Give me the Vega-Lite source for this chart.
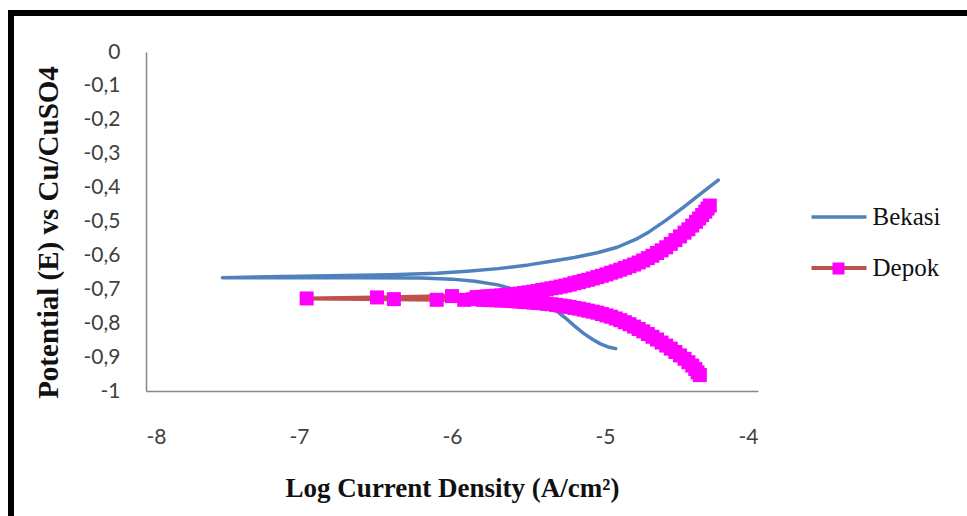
{
  "$schema": "https://vega.github.io/schema/vega-lite/v6.json",
  "width": 956,
  "height": 503,
  "autosize": {"type": "none"},
  "padding": {"left": 11, "top": 13, "right": 0, "bottom": 0},
  "background": "white",
  "config": {
    "view": {"stroke": "black", "strokeWidth": 6, "strokeDash": [956, 1459, 503], "strokeCap": "square"},
    "axis": {"domainColor": "#868686", "domainWidth": 1.5, "ticks": false, "tickSize": 0, "grid": false, "labelFont": "Lato", "labelFontSize": 21, "labelColor": "#404040", "titleFont": "Liberation Serif", "titleFontWeight": "bold", "titleFontSize": 27, "titleColor": "#111111"}
  },
  "data": {"values": [
    {"s":"Bekasi","i":1,"x":-4.93,"y":-0.875},{"s":"Bekasi","i":2,"x":-4.98,"y":-0.870},{"s":"Bekasi","i":3,"x":-5.03,"y":-0.861},{"s":"Bekasi","i":4,"x":-5.08,"y":-0.848},{"s":"Bekasi","i":5,"x":-5.14,"y":-0.830},{"s":"Bekasi","i":6,"x":-5.20,"y":-0.808},{"s":"Bekasi","i":7,"x":-5.26,"y":-0.784},{"s":"Bekasi","i":8,"x":-5.32,"y":-0.762},{"s":"Bekasi","i":9,"x":-5.40,"y":-0.740},{"s":"Bekasi","i":10,"x":-5.50,"y":-0.718},{"s":"Bekasi","i":11,"x":-5.60,"y":-0.700},{"s":"Bekasi","i":12,"x":-5.70,"y":-0.687},{"s":"Bekasi","i":13,"x":-5.85,"y":-0.676},{"s":"Bekasi","i":14,"x":-6.00,"y":-0.670},{"s":"Bekasi","i":15,"x":-6.20,"y":-0.667},{"s":"Bekasi","i":16,"x":-6.60,"y":-0.666},{"s":"Bekasi","i":17,"x":-7.00,"y":-0.666},{"s":"Bekasi","i":18,"x":-7.50,"y":-0.666},{"s":"Bekasi","i":19,"x":-7.20,"y":-0.663},{"s":"Bekasi","i":20,"x":-6.80,"y":-0.660},{"s":"Bekasi","i":21,"x":-6.40,"y":-0.657},{"s":"Bekasi","i":22,"x":-6.10,"y":-0.653},{"s":"Bekasi","i":23,"x":-5.90,"y":-0.647},{"s":"Bekasi","i":24,"x":-5.70,"y":-0.639},{"s":"Bekasi","i":25,"x":-5.50,"y":-0.628},{"s":"Bekasi","i":26,"x":-5.36,"y":-0.618},{"s":"Bekasi","i":27,"x":-5.20,"y":-0.606},{"s":"Bekasi","i":28,"x":-5.05,"y":-0.592},{"s":"Bekasi","i":29,"x":-4.92,"y":-0.576},{"s":"Bekasi","i":30,"x":-4.80,"y":-0.553},{"s":"Bekasi","i":31,"x":-4.71,"y":-0.530},{"s":"Bekasi","i":32,"x":-4.60,"y":-0.496},{"s":"Bekasi","i":33,"x":-4.49,"y":-0.459},{"s":"Bekasi","i":34,"x":-4.38,"y":-0.420},{"s":"Bekasi","i":35,"x":-4.26,"y":-0.378},
    {"s":"Depok","i":101,"x":-4.38,"y":-0.953},{"s":"Depok","i":102,"x":-4.395,"y":-0.945},{"s":"Depok","i":103,"x":-4.41,"y":-0.935},{"s":"Depok","i":104,"x":-4.43,"y":-0.925},{"s":"Depok","i":105,"x":-4.455,"y":-0.915},{"s":"Depok","i":106,"x":-4.48,"y":-0.905},{"s":"Depok","i":107,"x":-4.51,"y":-0.895},{"s":"Depok","i":108,"x":-4.54,"y":-0.885},{"s":"Depok","i":109,"x":-4.57,"y":-0.875},{"s":"Depok","i":110,"x":-4.60,"y":-0.866},{"s":"Depok","i":111,"x":-4.63,"y":-0.857},{"s":"Depok","i":112,"x":-4.66,"y":-0.848},{"s":"Depok","i":113,"x":-4.69,"y":-0.840},{"s":"Depok","i":114,"x":-4.72,"y":-0.832},{"s":"Depok","i":115,"x":-4.75,"y":-0.824},{"s":"Depok","i":116,"x":-4.78,"y":-0.817},{"s":"Depok","i":117,"x":-4.81,"y":-0.810},{"s":"Depok","i":118,"x":-4.84,"y":-0.803},{"s":"Depok","i":119,"x":-4.87,"y":-0.797},{"s":"Depok","i":120,"x":-4.90,"y":-0.791},{"s":"Depok","i":121,"x":-4.93,"y":-0.786},{"s":"Depok","i":122,"x":-4.96,"y":-0.781},{"s":"Depok","i":123,"x":-4.99,"y":-0.777},{"s":"Depok","i":124,"x":-5.02,"y":-0.773},{"s":"Depok","i":125,"x":-5.05,"y":-0.769},{"s":"Depok","i":126,"x":-5.08,"y":-0.766},{"s":"Depok","i":127,"x":-5.11,"y":-0.763},{"s":"Depok","i":128,"x":-5.14,"y":-0.760},{"s":"Depok","i":129,"x":-5.17,"y":-0.757},{"s":"Depok","i":130,"x":-5.20,"y":-0.755},{"s":"Depok","i":131,"x":-5.23,"y":-0.752},{"s":"Depok","i":132,"x":-5.26,"y":-0.750},{"s":"Depok","i":133,"x":-5.29,"y":-0.748},{"s":"Depok","i":134,"x":-5.32,"y":-0.746},{"s":"Depok","i":135,"x":-5.35,"y":-0.744},{"s":"Depok","i":136,"x":-5.38,"y":-0.743},{"s":"Depok","i":137,"x":-5.41,"y":-0.741},{"s":"Depok","i":138,"x":-5.44,"y":-0.740},{"s":"Depok","i":139,"x":-5.47,"y":-0.739},{"s":"Depok","i":140,"x":-5.50,"y":-0.738},{"s":"Depok","i":141,"x":-5.53,"y":-0.737},{"s":"Depok","i":142,"x":-5.56,"y":-0.736},{"s":"Depok","i":143,"x":-5.59,"y":-0.735},{"s":"Depok","i":144,"x":-5.62,"y":-0.734},{"s":"Depok","i":145,"x":-5.65,"y":-0.733},{"s":"Depok","i":146,"x":-5.68,"y":-0.733},{"s":"Depok","i":147,"x":-5.71,"y":-0.732},{"s":"Depok","i":148,"x":-5.74,"y":-0.732},{"s":"Depok","i":149,"x":-5.77,"y":-0.731},{"s":"Depok","i":150,"x":-5.80,"y":-0.731},
    {"s":"Depok","i":151,"x":-5.86,"y":-0.729},{"s":"Depok","i":152,"x":-5.92,"y":-0.731},{"s":"Depok","i":153,"x":-6.10,"y":-0.731},{"s":"Depok","i":154,"x":-6.38,"y":-0.729},{"s":"Depok","i":155,"x":-6.95,"y":-0.727},{"s":"Depok","i":156,"x":-6.49,"y":-0.724},{"s":"Depok","i":157,"x":-6.00,"y":-0.720},{"s":"Depok","i":158,"x":-5.84,"y":-0.723},
    {"s":"Depok","i":159,"x":-5.80,"y":-0.722},{"s":"Depok","i":160,"x":-5.77,"y":-0.721},{"s":"Depok","i":161,"x":-5.74,"y":-0.720},{"s":"Depok","i":162,"x":-5.71,"y":-0.719},{"s":"Depok","i":163,"x":-5.68,"y":-0.718},{"s":"Depok","i":164,"x":-5.65,"y":-0.717},{"s":"Depok","i":165,"x":-5.62,"y":-0.716},{"s":"Depok","i":166,"x":-5.59,"y":-0.714},{"s":"Depok","i":167,"x":-5.56,"y":-0.713},{"s":"Depok","i":168,"x":-5.53,"y":-0.711},{"s":"Depok","i":169,"x":-5.50,"y":-0.709},{"s":"Depok","i":170,"x":-5.47,"y":-0.707},{"s":"Depok","i":171,"x":-5.44,"y":-0.705},{"s":"Depok","i":172,"x":-5.41,"y":-0.702},{"s":"Depok","i":173,"x":-5.38,"y":-0.700},{"s":"Depok","i":174,"x":-5.35,"y":-0.697},{"s":"Depok","i":175,"x":-5.32,"y":-0.695},{"s":"Depok","i":176,"x":-5.29,"y":-0.692},{"s":"Depok","i":177,"x":-5.26,"y":-0.689},{"s":"Depok","i":178,"x":-5.23,"y":-0.686},{"s":"Depok","i":179,"x":-5.20,"y":-0.682},{"s":"Depok","i":180,"x":-5.17,"y":-0.679},{"s":"Depok","i":181,"x":-5.14,"y":-0.675},{"s":"Depok","i":182,"x":-5.11,"y":-0.672},{"s":"Depok","i":183,"x":-5.08,"y":-0.668},{"s":"Depok","i":184,"x":-5.05,"y":-0.664},{"s":"Depok","i":185,"x":-5.02,"y":-0.660},{"s":"Depok","i":186,"x":-4.99,"y":-0.656},{"s":"Depok","i":187,"x":-4.96,"y":-0.651},{"s":"Depok","i":188,"x":-4.93,"y":-0.647},{"s":"Depok","i":189,"x":-4.90,"y":-0.642},{"s":"Depok","i":190,"x":-4.87,"y":-0.637},{"s":"Depok","i":191,"x":-4.84,"y":-0.632},{"s":"Depok","i":192,"x":-4.81,"y":-0.627},{"s":"Depok","i":193,"x":-4.78,"y":-0.621},{"s":"Depok","i":194,"x":-4.75,"y":-0.615},{"s":"Depok","i":195,"x":-4.72,"y":-0.608},{"s":"Depok","i":196,"x":-4.69,"y":-0.601},{"s":"Depok","i":197,"x":-4.66,"y":-0.593},{"s":"Depok","i":198,"x":-4.63,"y":-0.585},{"s":"Depok","i":199,"x":-4.60,"y":-0.576},{"s":"Depok","i":200,"x":-4.57,"y":-0.566},{"s":"Depok","i":201,"x":-4.54,"y":-0.555},{"s":"Depok","i":202,"x":-4.51,"y":-0.544},{"s":"Depok","i":203,"x":-4.48,"y":-0.533},{"s":"Depok","i":204,"x":-4.455,"y":-0.523},{"s":"Depok","i":205,"x":-4.43,"y":-0.512},{"s":"Depok","i":206,"x":-4.405,"y":-0.501},{"s":"Depok","i":207,"x":-4.385,"y":-0.491},{"s":"Depok","i":208,"x":-4.365,"y":-0.481},{"s":"Depok","i":209,"x":-4.345,"y":-0.471},{"s":"Depok","i":210,"x":-4.33,"y":-0.462},{"s":"Depok","i":211,"x":-4.315,"y":-0.453}
  ]},
  "layer": [
    {
      "mark": {"type": "line", "interpolate": "linear", "strokeJoin": "round", "strokeCap": "round"},
      "encoding": {
        "x": {"field": "x", "type": "quantitative", "scale": {"domain": [-8, -4], "range": [135, 747], "nice": false, "zero": false},
          "axis": {"offset": -125, "values": [-8, -7, -6, -5, -4], "labelExpr": "toString(datum.value)", "labelPadding": 35, "title": "Log Current Density (A/cm²)", "titleX": 441, "titleY": 97, "titleBaseline": "middle", "titleAlign": "center"}},
        "y": {"field": "y", "type": "quantitative", "scale": {"domain": [-1, 0], "range": [378, 39], "nice": false, "zero": false},
          "axis": {"offset": -135, "values": [0, -0.1, -0.2, -0.3, -0.4, -0.5, -0.6, -0.7, -0.8, -0.9, -1], "labelExpr": "replace(toString(round(datum.value*10)/10), '.', ',')", "labelPadding": 26, "title": "Potential (E) vs Cu/CuSO4", "titleX": -98, "titleY": 219, "titleAngle": -90, "titleBaseline": "middle", "titleAlign": "center", "titleFontSize": 29}},
        "order": {"field": "i", "type": "quantitative"},
        "color": {"field": "s", "type": "nominal", "scale": {"domain": ["Bekasi", "Depok"], "range": ["#4F81BD", "#C0504D"]},
          "legend": {"orient": "none", "legendX": 798.5, "legendY": 174.5, "title": null, "padding": 0, "symbolType": "stroke", "symbolSize": 3025, "symbolStrokeWidth": 3.5, "labelFont": "Liberation Serif", "labelFontSize": 25, "labelColor": "#111111", "labelOffset": 4, "rowPadding": 8}},
        "strokeWidth": {"field": "s", "type": "nominal", "scale": {"domain": ["Bekasi", "Depok"], "range": [3.5, 4]}, "legend": null}
      }
    },
    {
      "transform": [{"filter": "datum.s === 'Depok'"}],
      "mark": {"type": "point", "shape": "square", "filled": true, "size": 196, "opacity": 1, "strokeWidth": 0},
      "encoding": {
        "x": {"field": "x", "type": "quantitative"},
        "y": {"field": "y", "type": "quantitative"},
        "fill": {"field": "s", "type": "nominal", "scale": {"domain": ["Depok"], "range": ["#FF00FF"]},
          "legend": {"orient": "none", "legendX": 821.5, "legendY": 249.5, "title": null, "padding": 0, "symbolType": "square", "symbolSize": 144, "symbolStrokeWidth": 0, "symbolOpacity": 1, "labelFontSize": 1, "labelOpacity": 0, "labelOffset": 0, "zindex": 2}}
      }
    }
  ]
}
